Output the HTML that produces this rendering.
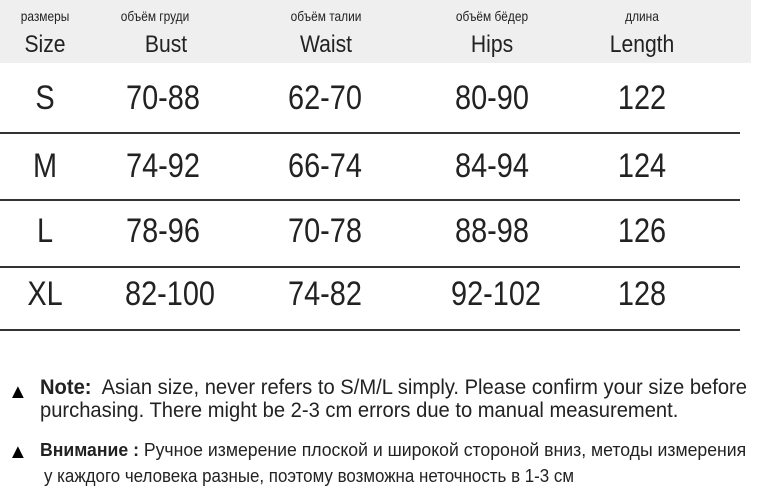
<!DOCTYPE html>
<html><head><meta charset="utf-8"><style>
body{margin:0;width:774px;height:497px;background:#fff;position:relative;overflow:hidden;font-family:"Liberation Sans",sans-serif;color:#222}
.a{position:absolute;white-space:nowrap;transform:translateX(-50%) scaleX(0.85)}
.l{position:absolute;white-space:nowrap;transform-origin:left top}
.hr{position:absolute;left:0;width:740px;height:2px;background:#333}
.ru{font-size:14px;top:8px}
.en{font-size:24px;top:31px}
.en.a{transform:translateX(-50%) scaleX(0.88)}
.d{font-size:34px}
</style></head><body>
<div style="position:absolute;left:0;top:0;width:751px;height:63px;background:#efefef"></div>
<div class="a ru" style="left:45px">размеры</div>
<div class="a ru" style="left:155px">объём груди</div>
<div class="a ru" style="left:326px">объём талии</div>
<div class="a ru" style="left:492px">объём бёдер</div>
<div class="a ru" style="left:642px">длина</div>
<div class="a en" style="left:45px">Size</div>
<div class="a en" style="left:166px">Bust</div>
<div class="a en" style="left:326px">Waist</div>
<div class="a en" style="left:492px">Hips</div>
<div class="a en" style="left:642px">Length</div>

<div class="a d" style="left:45px;top:79px">S</div>
<div class="a d" style="left:163px;top:79px">70-88</div>
<div class="a d" style="left:325px;top:79px">62-70</div>
<div class="a d" style="left:492px;top:79px">80-90</div>
<div class="a d" style="left:642px;top:79px">122</div>
<div class="hr" style="top:132px"></div>
<div class="a d" style="left:45px;top:147px">M</div>
<div class="a d" style="left:163px;top:147px">74-92</div>
<div class="a d" style="left:325px;top:147px">66-74</div>
<div class="a d" style="left:492px;top:147px">84-94</div>
<div class="a d" style="left:642px;top:147px">124</div>
<div class="hr" style="top:199px"></div>
<div class="a d" style="left:45px;top:212px">L</div>
<div class="a d" style="left:163px;top:212px">78-96</div>
<div class="a d" style="left:325px;top:212px">70-78</div>
<div class="a d" style="left:492px;top:212px">88-98</div>
<div class="a d" style="left:642px;top:212px">126</div>
<div class="hr" style="top:266px"></div>
<div class="a d" style="left:45px;top:275px">XL</div>
<div class="a d" style="left:170px;top:275px">82-100</div>
<div class="a d" style="left:325px;top:275px">74-82</div>
<div class="a d" style="left:496px;top:275px">92-102</div>
<div class="a d" style="left:642px;top:275px">128</div>
<div class="hr" style="top:329px"></div>

<div class="l" style="left:8px;top:381px;font-size:20px;color:#000">▲</div>
<div class="l" style="left:40px;top:376px;font-size:21px;transform:scaleX(0.96)"><b>Note:</b>&nbsp; Asian size, never refers to S/M/L simply. Please confirm your size before</div>
<div class="l" style="left:40px;top:399px;font-size:21px;transform:scaleX(0.96)">purchasing. There might be 2-3 cm errors due to manual measurement.</div>
<div class="l" style="left:8px;top:441px;font-size:20px;color:#000">▲</div>
<div class="l" style="left:40px;top:440px;font-size:18px;transform:scaleX(0.98)"><b>Внимание :</b> Ручное измерение плоской и широкой стороной вниз, методы измерения</div>
<div class="l" style="left:44px;top:466px;font-size:18px;transform:scaleX(0.94)">у каждого человека разные, поэтому возможна неточность в 1-3 см</div>
</body></html>
